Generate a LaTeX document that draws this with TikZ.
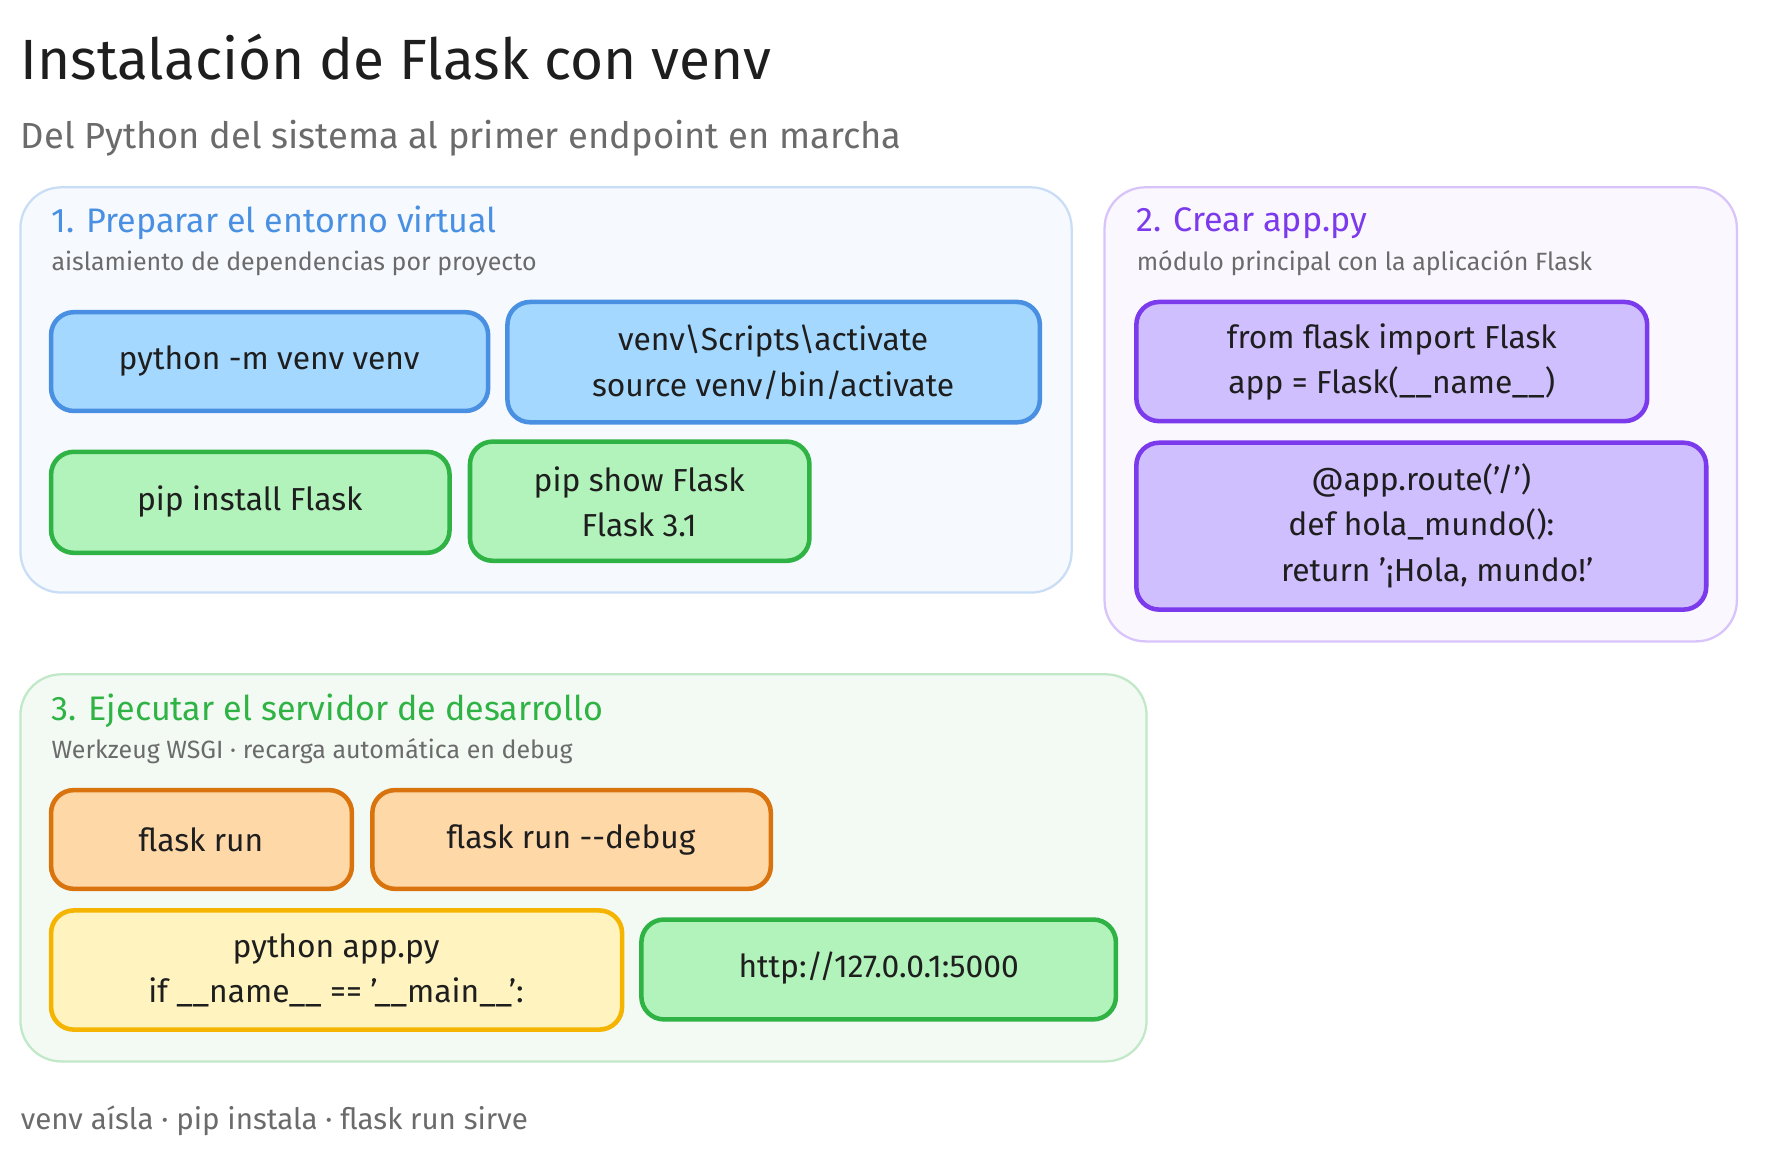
\documentclass[tikz,border=0pt]{standalone}
\usepackage{fontspec}
\setmainfont{Fira Sans}
\usepackage{tikz}
\usetikzlibrary{positioning}

\definecolor{inkc}{HTML}{1E1E1E}
\definecolor{grayc}{HTML}{6B6B6B}
\definecolor{bluet}{HTML}{4A90E2}
\definecolor{purplet}{HTML}{7C3AED}
\definecolor{greent}{HTML}{2FB344}
\definecolor{orangel}{HTML}{D9730D}
\definecolor{yellowl}{HTML}{F5B400}
\definecolor{bluef}{HTML}{A5D8FF}
\definecolor{greenf}{HTML}{B2F2BB}
\definecolor{purplef}{HTML}{D0BFFF}
\definecolor{orangef}{HTML}{FFD8A8}
\definecolor{yellowf}{HTML}{FFF3BF}

\tikzset{
    panel/.style={draw=#1, line width=1pt, rounded corners=18pt},
    cmd/.style={draw=#1, line width=2pt, rounded corners=10pt},
    ptitle/.style={anchor=west, inner sep=0pt, font=\fontsize{15}{18}\selectfont, text=#1},
    psub/.style={anchor=west, inner sep=0pt, font=\fontsize{11}{13}\selectfont, text=grayc},
    ctext/.style={align=center, inner sep=0pt, text=inkc, font=\fontsize{14}{20}\selectfont}
}

\begin{document}
\begin{tikzpicture}[x=0.5pt, y=-0.5pt]
\useasboundingbox (0,0) rectangle (1568,1021);
\fill[white] (0,0) rectangle (1568,1021);

% heading
\node[anchor=west, inner sep=0pt, text=inkc, font=\fontsize{25}{30}\selectfont] (title) at (18,50) {Instalación de Flask con venv};
\node[anchor=west, inner sep=0pt, text=grayc, font=\fontsize{16}{20}\selectfont] (subtitle) at (18,122) {Del Python del sistema al primer endpoint en marcha};

% panel 1
\draw[panel=bluet!30, fill=bluet!5] (18,165) rectangle (944,522);
\node[ptitle=bluet] (p1t) at (45,196) {1. Preparar el entorno virtual};
\node[psub] (p1s) at (45,232) {aislamiento de dependencias por proyecto};
\draw[cmd=bluet, fill=bluef] (45,275) rectangle (430,362);
\node[ctext] (venv) at (237,318) {python -m venv venv};
\draw[cmd=bluet, fill=bluef] (447,266) rectangle (916,372);
\node[ctext] (activate) at (681,319) {venv\textbackslash Scripts\textbackslash activate\\source venv/bin/activate};
\draw[cmd=greent, fill=greenf] (45,398) rectangle (396,487);
\node[ctext] (install) at (220,442) {pip install Flask};
\draw[cmd=greent, fill=greenf] (414,389) rectangle (713,494);
\node[ctext] (show) at (563,442) {pip show Flask\\Flask 3.1};

% panel 2
\draw[panel=purplet!30, fill=purplet!4] (973,165) rectangle (1530,565);
\node[ptitle=purplet] (p2t) at (1001,197) {2. Crear app.py};
\node[psub] (p2s) at (1001,232) {módulo principal con la aplicación Flask};
\draw[cmd=purplet, fill=purplef] (1001,266) rectangle (1451,371);
\node[ctext] (import) at (1226,319) {from flask import Flask\\app = Flask(\_\_name\_\_)};
\draw[cmd=purplet, fill=purplef] (1001,390) rectangle (1503,537);
\node[ctext] (route) at (1252,463) {@app.route('/')\\def hola\_mundo():\\\quad return '¡Hola, mundo!'};

% panel 3
\draw[panel=greent!30, fill=greent!6] (18,594) rectangle (1010,935);
\node[ptitle=greent] (p3t) at (45,626) {3. Ejecutar el servidor de desarrollo};
\node[psub] (p3s) at (45,662) {Werkzeug WSGI · recarga automática en debug};
\draw[cmd=orangel, fill=orangef] (45,696) rectangle (310,783);
\node[ctext] (run) at (177,740) {flask run};
\draw[cmd=orangel, fill=orangef] (328,696) rectangle (679,783);
\node[ctext] (debug) at (503,740) {flask run -{}-debug};
\draw[cmd=yellowl, fill=yellowf] (45,802) rectangle (548,907);
\node[ctext] (apppy) at (296,855) {python app.py\\if \_\_name\_\_ == '\_\_main\_\_':};
\draw[cmd=greent, fill=greenf] (565,810) rectangle (983,898);
\node[ctext] (url) at (774,853) {http://127.0.0.1:5000};

% footer
\node[anchor=west, inner sep=0pt, text=grayc, font=\fontsize{13}{16}\selectfont] (footer) at (18,987) {venv aísla · pip instala · flask run sirve};
\end{tikzpicture}
\end{document}
